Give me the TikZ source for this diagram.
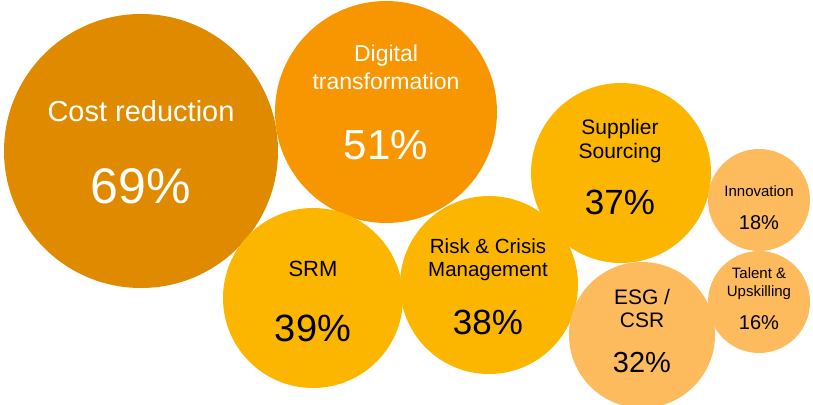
\documentclass[tikz,border=0pt]{standalone}
\usepackage{fontspec}
\setmainfont{Liberation Sans}
\definecolor{cDark}{RGB}{224,138,0}
\definecolor{cOrange}{RGB}{247,150,0}
\definecolor{cYellow}{RGB}{253,182,0}
\definecolor{cLight}{RGB}{253,187,94}
\tikzset{
  bubble/.style={circle, inner sep=0pt, minimum size=#1*2pt},
  lab/.style={anchor=base, inner sep=0pt, font=\fontsize{#1}{#1}\selectfont},
  wlab/.style={lab=#1, text=white},
  blab/.style={lab=#1, text=black}
}
\begin{document}
\begin{tikzpicture}[x=1pt,y=1pt]
\clip (0,0) rectangle (813,404);
\useasboundingbox (0,0) rectangle (813,404);
% circles
\node[bubble=137, fill=cDark] (cost) at (141,253) {};
\node[bubble=111, fill=cOrange] (digital) at (386,292) {};
\node[bubble=90, fill=cYellow] (srm) at (313,106) {};
\node[bubble=89, fill=cYellow] (risk) at (489,119) {};
\node[bubble=90, fill=cYellow] (supplier) at (621,231) {};
\node[bubble=73, fill=cLight] (esg) at (642,69) {};
\node[bubble=51, fill=cLight] (innov) at (759,204) {};
\node[bubble=51, fill=cLight] (talent) at (759,102) {};
% labels
\node[wlab=29] (t1a) at (141,282) {Cost reduction};
\node[wlab=50] (t1b) at (141,200) {69\%};
\node[wlab=23] (t2a) at (386,342) {Digital};
\node[wlab=23] (t2b) at (386,314) {transformation};
\node[wlab=42] (t2c) at (386,244) {51\%};
\node[blab=22] (t3a) at (313,127) {SRM};
\node[blab=38] (t3b) at (313,62) {39\%};
\node[blab=20.5] (t4a) at (488,150) {Risk \& Crisis};
\node[blab=20.5] (t4b) at (488,127) {Management};
\node[blab=35] (t4c) at (488,69) {38\%};
\node[blab=21] (t5a) at (620,269) {Supplier};
\node[blab=21] (t5b) at (620,245) {Sourcing};
\node[blab=35] (t5c) at (620,189) {37\%};
\node[blab=21] (t6a) at (642,99) {ESG /};
\node[blab=21] (t6b) at (642,76) {CSR};
\node[blab=29] (t6c) at (642,31) {32\%};
\node[blab=15] (t7a) at (759,207) {Innovation};
\node[blab=20] (t7b) at (759,174) {18\%};
\node[blab=15] (t8a) at (759,125) {Talent \&};
\node[blab=15] (t8b) at (759,107) {Upskilling};
\node[blab=20] (t8c) at (759,74) {16\%};
\end{tikzpicture}
\end{document}
